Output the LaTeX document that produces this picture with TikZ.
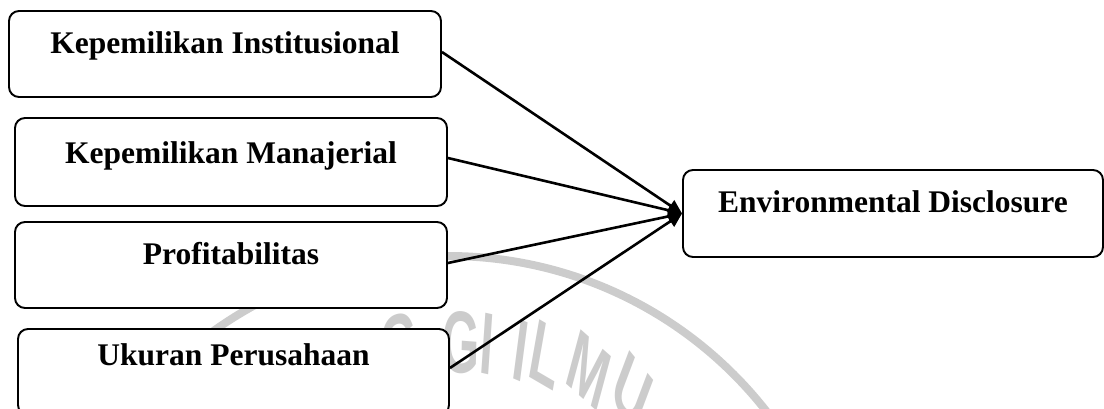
\documentclass[tikz,border=0pt]{standalone}
\usepackage{fontspec}
\setmainfont{Liberation Serif}
\newfontfamily\wmfont{Liberation Sans}
\usetikzlibrary{arrows.meta,calc}
\definecolor{wmgray}{HTML}{CCCCCC}
\begin{document}
\begin{tikzpicture}[x=1pt,y=-1pt,
  box/.style={draw, line width=1.9pt, rounded corners=10pt, fill=white, inner sep=0pt},
  lbl/.style={anchor=base, font=\bfseries\fontsize{31.5}{36}\selectfont, inner sep=0pt},
  conn/.style={line width=2.6pt, -{Triangle[length=14pt,width=13pt]}},
  wm/.style={text=wmgray, font=\wmfont\bfseries\fontsize{88}{90}\selectfont, inner sep=0pt, xscale=0.55}]
\useasboundingbox (0,0) rectangle (1104,409);
% watermark
\coordinate (wc) at (448,660);
\draw[wmgray, line width=8pt] (wc) circle[radius=404];
\node[wm, rotate=8.7]   (w0) at ($(wc)+(-98.7:318)$) {G};
\node[wm, rotate=-2.4]  (w1) at ($(wc)+(-87.6:318)$) {G};
\node[wm, rotate=-7.1]  (w2) at ($(wc)+(-82.9:318)$) {I};
\node[wm, rotate=-13.3] (w3) at ($(wc)+(-76.7:318)$) {I};
\node[wm, rotate=-17.8] (w4) at ($(wc)+(-72.2:320)$) {L};
\node[wm, rotate=-26]   (w5) at ($(wc)+(-64:322)$) {M};
\node[wm, rotate=-34.4] (w6) at ($(wc)+(-55.6:326)$) {U};
% boxes
\node[box, minimum width=432pt, minimum height=86pt] (b1) at (225,54) {};
\node[box, minimum width=432pt, minimum height=88pt] (b2) at (231,162) {};
\node[box, minimum width=432pt, minimum height=86pt] (b3) at (231,265) {};
\node[box, minimum width=431pt, minimum height=86pt] (b4) at (233.5,372) {};
\node[box, minimum width=420pt, minimum height=87pt] (b5) at (893,213.5) {};
% labels
\node[lbl] (t1) at (225,54) {Kepemilikan Institusional};
\node[lbl] (t2) at (231,164) {Kepemilikan Manajerial};
\node[lbl] (t3) at (231,265) {Profitabilitas};
\node[lbl] (t4) at (233.5,365) {Ukuran Perusahaan};
\node[lbl] (t5) at (893,213) {Environmental Disclosure};
% connectors
\draw[conn] ([yshift=2pt]b1.east) -- (b5.west);
\draw[conn] ([yshift=4pt]b2.east) -- (b5.west);
\draw[conn] ([yshift=2pt]b3.east) -- (b5.west);
\draw[conn] ([yshift=4pt]b4.east) -- (b5.west);
\end{tikzpicture}
\end{document}
